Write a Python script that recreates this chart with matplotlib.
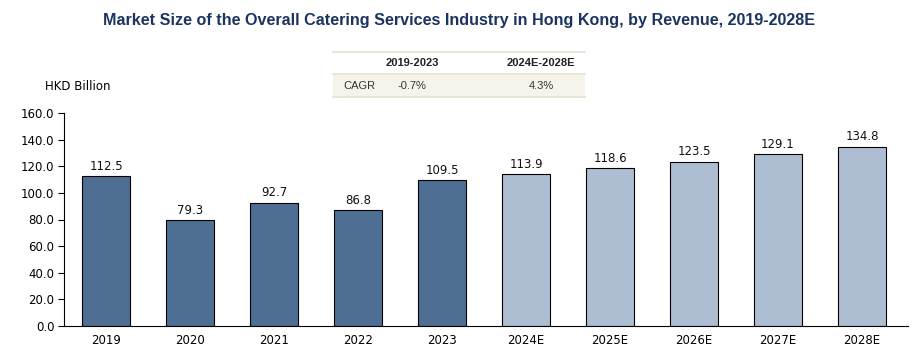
import numpy as np
import matplotlib.pyplot as plt
from matplotlib.patches import Rectangle
from matplotlib.lines import Line2D

years = ['2019', '2020', '2021', '2022', '2023', '2024E', '2025E', '2026E', '2027E', '2028E']
revenue = [112.5, 79.3, 92.7, 86.8, 109.5, 113.9, 118.6, 123.5, 129.1, 134.8]
n_hist = 5
cagr_periods = ['2019-2023', '2024E-2028E']
cagr_values = ['-0.7%', '4.3%']

W, H = 916, 360
fig = plt.figure(figsize=(W / 100, H / 100), dpi=100)

def fx(px):
    return px / W

def fy(py):
    return 1 - py / H

ax = fig.add_axes([fx(64), fy(326), fx(904) - fx(64), fy(113) - fy(326)])

colors = ['#4E6F93'] * n_hist + ['#ADBDD2'] * (len(years) - n_hist)
x = np.arange(len(years))
bars = ax.bar(x, revenue, width=0.56, color=colors, edgecolor='black', linewidth=0.8)

for xi, v in zip(x, revenue):
    ax.text(xi, v + 2.5, '{:.1f}'.format(v), ha='center', va='bottom',
            fontsize=8.5, family='DejaVu Sans', color='#111111')

ax.set_xlim(-0.5, 9.5)
ax.set_ylim(0, 160)
ax.set_yticks(np.arange(0, 161, 20))
ax.set_yticklabels(['{:.1f}'.format(t) for t in np.arange(0, 161, 20)])
ax.set_xticks(x)
ax.set_xticklabels(years)
ax.tick_params(axis='y', labelsize=8.5, length=4, width=0.8, pad=3)
ax.tick_params(axis='x', labelsize=8.5, length=0, pad=6)
for s in ['top', 'right']:
    ax.spines[s].set_visible(False)
ax.spines['left'].set_linewidth(0.8)
ax.spines['bottom'].set_linewidth(0.8)
ax.spines['bottom'].set_bounds(-0.5, 9.55)

# title
fig.text(fx(459), fy(20), 'Market Size of the Overall Catering Services Industry in Hong Kong, by Revenue, 2019-2028E',
         ha='center', va='center', fontsize=11.6, fontweight='bold', color='#1B3461',
         family='Liberation Sans')

fig.text(fx(45), fy(86), 'HKD Billion', ha='left', va='center', fontsize=8.5, family='DejaVu Sans')

# CAGR table
fig.patches.append(Rectangle((fx(333), fy(97)), fx(585) - fx(333), fy(74) - fy(97),
                             transform=fig.transFigure, facecolor='#F6F4EA', edgecolor='none'))
for py in [52, 74, 97]:
    fig.lines.append(Line2D([fx(333), fx(585)], [fy(py), fy(py)], transform=fig.transFigure,
                            color='#E6E2CF', linewidth=1.2))
col_x = [412, 541]
for cx, p in zip(col_x, cagr_periods):
    fig.text(fx(cx), fy(63), p, ha='center', va='center', fontsize=8, fontweight='bold',
             family='Liberation Sans', color='#222222')
fig.text(fx(343), fy(86), 'CAGR', ha='left', va='center', fontsize=8, family='Liberation Sans', color='#333333')
for cx, v in zip(col_x, cagr_values):
    fig.text(fx(cx), fy(86), v, ha='center', va='center', fontsize=8, family='Liberation Sans', color='#333333')

fig.savefig('out.png', dpi=100)
